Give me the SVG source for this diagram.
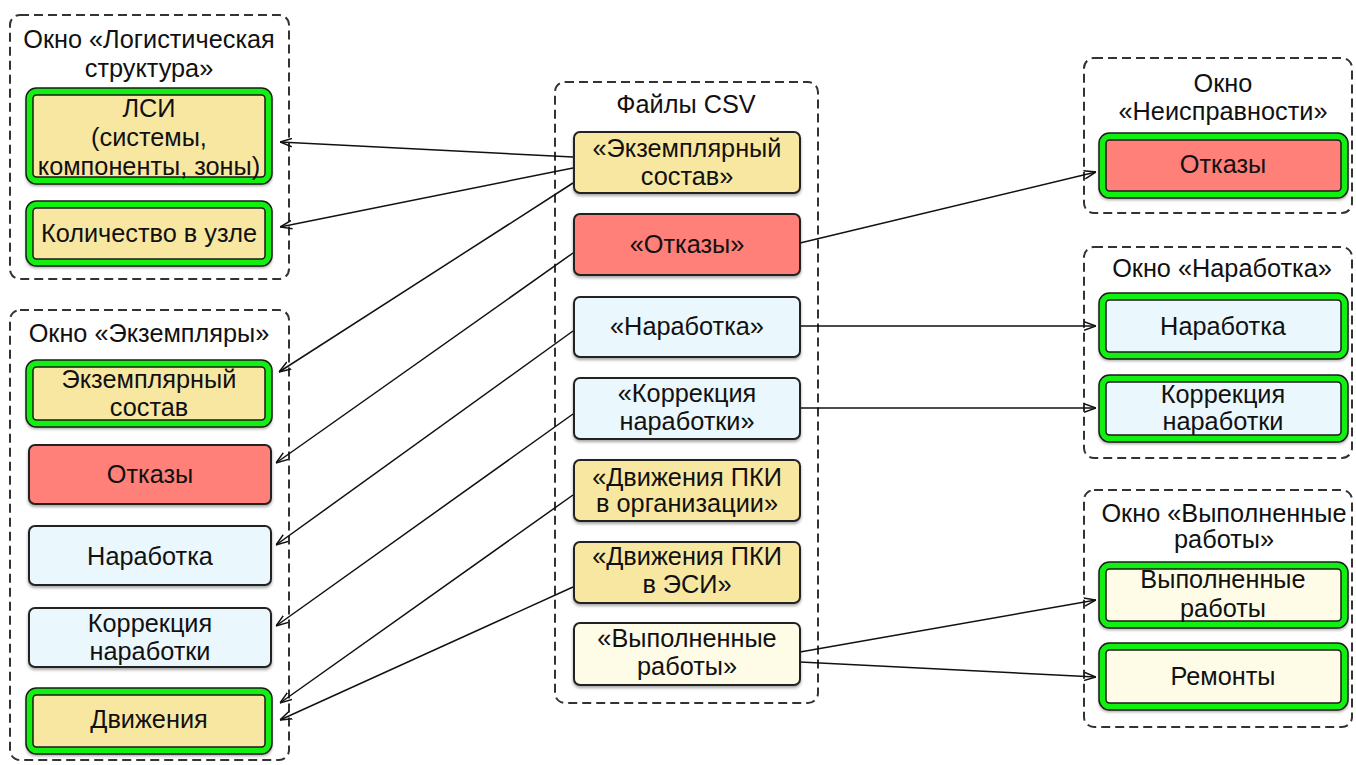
<svg xmlns="http://www.w3.org/2000/svg" width="1356" height="765" viewBox="0 0 1356 765">
<defs>
<filter id="sh" x="-10%" y="-10%" width="120%" height="130%">
<feDropShadow dx="0" dy="2" stdDeviation="1.8" flood-color="#000" flood-opacity="0.35"/>
</filter>
<marker id="arr" viewBox="0 0 12 10" refX="12" refY="5" markerWidth="12" markerHeight="10" markerUnits="userSpaceOnUse" orient="auto">
<path d="M0,0.8 L12,5 L0,9.2" fill="none" stroke="#111" stroke-width="1.5"/>
</marker>
</defs>
<style>
text{font-family:"Liberation Sans",Arial,Helvetica,sans-serif;font-size:25.3px;fill:#111;text-anchor:middle}
.grp{fill:#fff;stroke:#333;stroke-width:2;stroke-dasharray:9 5}
.box{stroke:#222;stroke-width:2;filter:url(#sh)}
.hb{fill:none;stroke:#1a1a1a;stroke-width:8.5}
.hg{fill:none;stroke:#11f011;stroke-width:5.5}
.y{fill:#f8e7a1}
.r{fill:#ff7f79}
.b{fill:#eaf7fd}
.c{fill:#fefbe7}
.conn line{stroke:#111;stroke-width:1.5;marker-end:url(#arr)}
</style>
<rect width="1356" height="765" fill="#fff"/>

<g id="grp-log">
<rect class="grp" x="10" y="15" width="279" height="264" rx="10"/>
<text x="149" y="48">Окно «Логистическая</text>
<text x="149" y="77">структура»</text>
</g>
<g id="grp-ekz">
<rect class="grp" x="10" y="310" width="279" height="450" rx="10"/>
<text x="149" y="342">Окно «Экземпляры»</text>
</g>
<g id="grp-csv">
<rect class="grp" x="555" y="82" width="263" height="621" rx="10"/>
<text x="686" y="113">Файлы CSV</text>
</g>
<g id="grp-neisp">
<rect class="grp" x="1084" y="58" width="268" height="155" rx="10"/>
<text x="1223" y="92">Окно</text>
<text x="1223" y="120">«Неисправности»</text>
</g>
<g id="grp-nar">
<rect class="grp" x="1084" y="247" width="268" height="211" rx="10"/>
<text x="1222" y="277">Окно «Наработка»</text>
</g>
<g id="grp-vyp">
<rect class="grp" x="1084" y="490" width="268" height="237" rx="10"/>
<text x="1224" y="522">Окно «Выполненные</text>
<text x="1224" y="548">работы»</text>
</g>

<g id="conn" class="conn">
<line x1="573" y1="157" x2="280" y2="142"/>
<line x1="573" y1="168" x2="280" y2="227"/>
<line x1="573" y1="183" x2="279" y2="372"/>
<line x1="573" y1="253" x2="276" y2="463"/>
<line x1="573" y1="331" x2="276" y2="545"/>
<line x1="573" y1="414" x2="276" y2="626"/>
<line x1="573" y1="495" x2="280" y2="703"/>
<line x1="573" y1="587" x2="280" y2="720"/>
<line x1="800" y1="243" x2="1096" y2="172"/>
<line x1="800" y1="326" x2="1096" y2="326"/>
<line x1="800" y1="408" x2="1096" y2="408"/>
<line x1="800" y1="652" x2="1096" y2="600"/>
<line x1="800" y1="662" x2="1096" y2="677"/>
</g>

<!-- left: logistic structure -->
<g id="n-lsi">
<rect class="y" x="26" y="88" width="246" height="96" rx="9" filter="url(#sh)"/>
<rect class="hb" x="29.5" y="91.5" width="239" height="89" rx="7"/>
<rect class="hg" x="29.5" y="91.5" width="239" height="89" rx="7"/>
<text x="149" y="117">ЛСИ</text>
<text x="149" y="146">(системы,</text>
<text x="149" y="175">компоненты, зоны)</text>
</g>
<g id="n-kol">
<rect class="y" x="26" y="201" width="246" height="65" rx="9" filter="url(#sh)"/>
<rect class="hb" x="29.5" y="204.5" width="239" height="58" rx="7"/>
<rect class="hg" x="29.5" y="204.5" width="239" height="58" rx="7"/>
<text x="149" y="242">Количество в узле</text>
</g>

<!-- left: instances -->
<g id="n-ekz">
<rect class="y" x="26" y="360" width="246" height="67" rx="9" filter="url(#sh)"/>
<rect class="hb" x="29.5" y="363.5" width="239" height="60" rx="7"/>
<rect class="hg" x="29.5" y="363.5" width="239" height="60" rx="7"/>
<text x="149" y="388">Экземплярный</text>
<text x="149" y="416">состав</text>
</g>
<g id="n-otk-l">
<rect class="box r" x="29" y="445" width="242" height="59" rx="6"/>
<text x="150" y="483">Отказы</text>
</g>
<g id="n-nar-l">
<rect class="box b" x="29" y="526" width="242" height="59" rx="6"/>
<text x="150" y="565">Наработка</text>
</g>
<g id="n-kor-l">
<rect class="box b" x="29" y="608" width="242" height="59" rx="6"/>
<text x="150" y="632">Коррекция</text>
<text x="150" y="660">наработки</text>
</g>
<g id="n-dv">
<rect class="y" x="26" y="688" width="246" height="66" rx="9" filter="url(#sh)"/>
<rect class="hb" x="29.5" y="691.5" width="239" height="59" rx="7"/>
<rect class="hg" x="29.5" y="691.5" width="239" height="59" rx="7"/>
<text x="149" y="728">Движения</text>
</g>

<!-- center: CSV files -->
<g id="c-ekz">
<rect class="box y" x="574" y="132" width="226" height="61" rx="6"/>
<text x="687" y="157">«Экземплярный</text>
<text x="687" y="185">состав»</text>
</g>
<g id="c-otk">
<rect class="box r" x="574" y="214" width="226" height="61" rx="6"/>
<text x="687" y="253">«Отказы»</text>
</g>
<g id="c-nar">
<rect class="box b" x="574" y="297" width="226" height="60" rx="6"/>
<text x="687" y="335">«Наработка»</text>
</g>
<g id="c-kor">
<rect class="box b" x="574" y="378" width="226" height="61" rx="6"/>
<text x="687" y="402">«Коррекция</text>
<text x="687" y="430">наработки»</text>
</g>
<g id="c-dvorg">
<rect class="box y" x="574" y="460" width="226" height="61" rx="6"/>
<text x="687" y="486">«Движения ПКИ</text>
<text x="687" y="512">в организации»</text>
</g>
<g id="c-dvesi">
<rect class="box y" x="574" y="542" width="226" height="61" rx="6"/>
<text x="687" y="565">«Движения ПКИ</text>
<text x="687" y="593">в ЭСИ»</text>
</g>
<g id="c-vyp">
<rect class="box c" x="574" y="623" width="226" height="62" rx="6"/>
<text x="687" y="647">«Выполненные</text>
<text x="687" y="675">работы»</text>
</g>

<!-- right -->
<g id="r-otk">
<rect class="r" x="1099" y="133" width="249" height="65" rx="9" filter="url(#sh)"/>
<rect class="hb" x="1102.5" y="136.5" width="242" height="58" rx="7"/>
<rect class="hg" x="1102.5" y="136.5" width="242" height="58" rx="7"/>
<text x="1223" y="173">Отказы</text>
</g>
<g id="r-nar">
<rect class="b" x="1099" y="293" width="249" height="66" rx="9" filter="url(#sh)"/>
<rect class="hb" x="1102.5" y="296.5" width="242" height="59" rx="7"/>
<rect class="hg" x="1102.5" y="296.5" width="242" height="59" rx="7"/>
<text x="1223" y="335">Наработка</text>
</g>
<g id="r-kor">
<rect class="b" x="1099" y="375" width="249" height="67" rx="9" filter="url(#sh)"/>
<rect class="hb" x="1102.5" y="378.5" width="242" height="60" rx="7"/>
<rect class="hg" x="1102.5" y="378.5" width="242" height="60" rx="7"/>
<text x="1223" y="403">Коррекция</text>
<text x="1223" y="430">наработки</text>
</g>
<g id="r-vyp">
<rect class="c" x="1099" y="562" width="249" height="66" rx="9" filter="url(#sh)"/>
<rect class="hb" x="1102.5" y="565.5" width="242" height="59" rx="7"/>
<rect class="hg" x="1102.5" y="565.5" width="242" height="59" rx="7"/>
<text x="1223" y="588">Выполненные</text>
<text x="1223" y="617">работы</text>
</g>
<g id="r-rem">
<rect class="c" x="1099" y="643" width="249" height="67" rx="9" filter="url(#sh)"/>
<rect class="hb" x="1102.5" y="646.5" width="242" height="60" rx="7"/>
<rect class="hg" x="1102.5" y="646.5" width="242" height="60" rx="7"/>
<text x="1223" y="685">Ремонты</text>
</g>
</svg>
